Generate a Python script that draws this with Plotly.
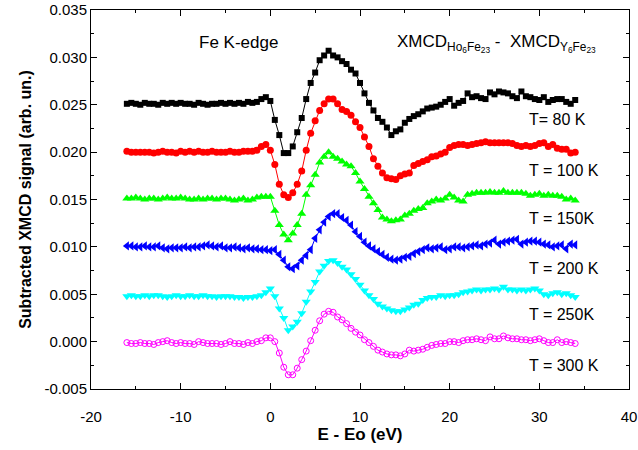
import plotly.graph_objects as go

# Energy grid relative to the Fe K-edge (eV), 0.5 eV steps
energy = [-16 + 0.5 * i for i in range(101)]

sig_80K = [
    0.0251, 0.0252, 0.0251, 0.0250, 0.0252, 0.0251, 0.0251, 0.0250, 0.0252, 0.0251,
    0.0252, 0.0251, 0.0252, 0.0251, 0.0251, 0.0250, 0.0252, 0.0251, 0.0250, 0.0251,
    0.0251, 0.0252, 0.0251, 0.0252, 0.0251, 0.0252, 0.0251, 0.0253, 0.0252, 0.0253,
    0.0256, 0.0258, 0.0254, 0.0234, 0.0218, 0.0199, 0.0199, 0.0206, 0.0221, 0.0236,
    0.0256, 0.0273, 0.0284, 0.0297, 0.0302, 0.0307, 0.0302, 0.0300, 0.0296, 0.0293,
    0.0287, 0.0283, 0.0273, 0.0262, 0.0252, 0.0244, 0.0236, 0.0232, 0.0226, 0.0218,
    0.0222, 0.0224, 0.0231, 0.0235, 0.0238, 0.0240, 0.0243, 0.0246, 0.0247, 0.0248,
    0.0250, 0.0253, 0.0256, 0.0249, 0.0252, 0.0254, 0.0262, 0.0258, 0.0259, 0.0257,
    0.0256, 0.0263, 0.0261, 0.0264, 0.0263, 0.0262, 0.0259, 0.0257, 0.0264, 0.0259,
    0.0258, 0.0256, 0.0255, 0.0258, 0.0253, 0.0255, 0.0256, 0.0256, 0.0253, 0.0251,
    0.0255,
]

sig_100K = [
    0.0201, 0.0200, 0.0200, 0.0200, 0.0200, 0.0200, 0.0199, 0.0200, 0.0201, 0.0200,
    0.0200, 0.0199, 0.0201, 0.0200, 0.0201, 0.0200, 0.0201, 0.0200, 0.0200, 0.0201,
    0.0200, 0.0200, 0.0200, 0.0201, 0.0200, 0.0200, 0.0201, 0.0201, 0.0201, 0.0202,
    0.0206, 0.0208, 0.0202, 0.0187, 0.0166, 0.0155, 0.0152, 0.0157, 0.0166, 0.0180,
    0.0202, 0.0220, 0.0233, 0.0244, 0.0251, 0.0256, 0.0256, 0.0251, 0.0245, 0.0243,
    0.0239, 0.0232, 0.0226, 0.0216, 0.0206, 0.0193, 0.0185, 0.0178, 0.0173, 0.0172,
    0.0171, 0.0175, 0.0177, 0.0178, 0.0186, 0.0188, 0.0190, 0.0192, 0.0195, 0.0196,
    0.0198, 0.0200, 0.0205, 0.0207, 0.0208, 0.0208, 0.0207, 0.0208, 0.0209, 0.0210,
    0.0211, 0.0210, 0.0210, 0.0210, 0.0210, 0.0210, 0.0209, 0.0207, 0.0206, 0.0207,
    0.0206, 0.0207, 0.0209, 0.0210, 0.0206, 0.0208, 0.0204, 0.0203, 0.0203, 0.0199,
    0.0200,
]

sig_150K = [
    0.0151, 0.0151, 0.0152, 0.0151, 0.0150, 0.0151, 0.0151, 0.0150, 0.0151, 0.0152,
    0.0151, 0.0151, 0.0152, 0.0151, 0.0150, 0.0150, 0.0151, 0.0150, 0.0151, 0.0151,
    0.0150, 0.0151, 0.0151, 0.0150, 0.0149, 0.0150, 0.0151, 0.0149, 0.0150, 0.0152,
    0.0153, 0.0153, 0.0153, 0.0138, 0.0123, 0.0113, 0.0107, 0.0114, 0.0123, 0.0135,
    0.0155, 0.0165, 0.0176, 0.0189, 0.0195, 0.0200, 0.0195, 0.0193, 0.0190, 0.0187,
    0.0185, 0.0178, 0.0169, 0.0161, 0.0153, 0.0146, 0.0139, 0.0131, 0.0129, 0.0127,
    0.0128, 0.0129, 0.0133, 0.0135, 0.0138, 0.0140, 0.0141, 0.0146, 0.0148, 0.0150,
    0.0149, 0.0151, 0.0155, 0.0152, 0.0149, 0.0148, 0.0155, 0.0156, 0.0157, 0.0157,
    0.0157, 0.0158, 0.0157, 0.0157, 0.0159, 0.0157, 0.0157, 0.0157, 0.0157, 0.0156,
    0.0154, 0.0155, 0.0156, 0.0154, 0.0155, 0.0154, 0.0154, 0.0153, 0.0150, 0.0151,
    0.0149,
]

sig_200K = [
    0.0101, 0.0101, 0.0100, 0.0100, 0.0101, 0.0100, 0.0100, 0.0101, 0.0099, 0.0098,
    0.0099, 0.0099, 0.0099, 0.0100, 0.0099, 0.0100, 0.0100, 0.0101, 0.0102, 0.0101,
    0.0100, 0.0101, 0.0099, 0.0099, 0.0100, 0.0099, 0.0098, 0.0099, 0.0098, 0.0098,
    0.0097, 0.0097, 0.0096, 0.0097, 0.0092, 0.0086, 0.0079, 0.0077, 0.0080, 0.0086,
    0.0091, 0.0097, 0.0109, 0.0118, 0.0126, 0.0132, 0.0135, 0.0135, 0.0131, 0.0128,
    0.0123, 0.0116, 0.0111, 0.0105, 0.0101, 0.0098, 0.0095, 0.0092, 0.0089, 0.0087,
    0.0086, 0.0087, 0.0089, 0.0090, 0.0093, 0.0095, 0.0097, 0.0099, 0.0098, 0.0099,
    0.0100, 0.0097, 0.0098, 0.0100, 0.0100, 0.0099, 0.0100, 0.0101, 0.0102, 0.0101,
    0.0103, 0.0104, 0.0107, 0.0103, 0.0105, 0.0106, 0.0107, 0.0108, 0.0103, 0.0105,
    0.0106, 0.0106, 0.0105, 0.0103, 0.0102, 0.0100, 0.0101, 0.0102, 0.0098, 0.0103,
    0.0102,
]

sig_250K = [
    0.0048, 0.0049, 0.0048, 0.0048, 0.0049, 0.0048, 0.0049, 0.0049, 0.0048, 0.0047,
    0.0048, 0.0049, 0.0048, 0.0048, 0.0049, 0.0048, 0.0048, 0.0049, 0.0048, 0.0048,
    0.0047, 0.0048, 0.0048, 0.0048, 0.0047, 0.0047, 0.0046, 0.0047, 0.0047, 0.0048,
    0.0049, 0.0052, 0.0056, 0.0048, 0.0035, 0.0025, 0.0012, 0.0016, 0.0021, 0.0030,
    0.0042, 0.0053, 0.0063, 0.0074, 0.0080, 0.0085, 0.0086, 0.0083, 0.0079, 0.0076,
    0.0071, 0.0066, 0.0060, 0.0054, 0.0049, 0.0045, 0.0040, 0.0037, 0.0035, 0.0033,
    0.0032, 0.0032, 0.0034, 0.0036, 0.0039, 0.0040, 0.0044, 0.0046, 0.0047, 0.0047,
    0.0049, 0.0048, 0.0049, 0.0049, 0.0050, 0.0052, 0.0053, 0.0054, 0.0055, 0.0054,
    0.0055, 0.0055, 0.0056, 0.0055, 0.0058, 0.0055, 0.0055, 0.0054, 0.0055, 0.0054,
    0.0055, 0.0056, 0.0054, 0.0050, 0.0049, 0.0051, 0.0052, 0.0050, 0.0051, 0.0049,
    0.0047,
]

sig_300K = [
    -0.0001, -0.0002, -0.0002, -0.0001, -0.0002, -0.0002, -0.0003, -0.0001, 0.0000, 0.0001,
    -0.0001, -0.0002, -0.0001, -0.0002, -0.0002, -0.0003, 0.0000, -0.0001, -0.0002, -0.0002,
    -0.0002, -0.0003, -0.0002, 0.0000, -0.0002, -0.0002, -0.0003, -0.0001, -0.0002, 0.0000,
    0.0001, 0.0004, 0.0004, 0.0000, -0.0012, -0.0027, -0.0035, -0.0035, -0.0028, -0.0019,
    -0.0010, 0.0001, 0.0012, 0.0022, 0.0029, 0.0032, 0.0031, 0.0026, 0.0023, 0.0019,
    0.0014, 0.0010, 0.0007, 0.0002, -0.0001, -0.0005, -0.0009, -0.0011, -0.0013, -0.0014,
    -0.0014, -0.0015, -0.0013, -0.0009, -0.0010, -0.0009, -0.0008, -0.0006, -0.0004, -0.0003,
    -0.0002, -0.0002, 0.0000, 0.0000, -0.0001, 0.0001, 0.0002, 0.0002, 0.0003, 0.0002,
    0.0001, 0.0005, 0.0003, 0.0003, 0.0006, 0.0004, 0.0003, 0.0003, 0.0002, 0.0002,
    0.0001, 0.0002, 0.0003, 0.0001, -0.0001, -0.0001, 0.0002, -0.0001, 0.0000, -0.0001,
    -0.0002,
]

temperature_labels = ["T= 80 K", "T = 100 K", "T = 150K", "T = 200 K", "T = 250K", "T = 300 K"]
label_y = [0.02348, 0.01804, 0.0130, 0.00774, 0.00291, -0.00247]

# Tick positions and labels (plain hyphen for negatives)
x_tick_vals = [-20, -10, 0, 10, 20, 30, 40]
x_tick_text = ["-20", "-10", "0", "10", "20", "30", "40"]
y_tick_vals = [-0.005, 0.0, 0.005, 0.010, 0.015, 0.020, 0.025, 0.030, 0.035]
y_tick_text = ["-0.005", "0.000", "0.005", "0.010", "0.015", "0.020", "0.025", "0.030", "0.035"]

series = [sig_80K, sig_100K, sig_150K, sig_200K, sig_250K, sig_300K]
colors = ["#000000", "#ff0000", "#00ff00", "#0000ff", "#00ffff", "#ff00ff"]
symbols = ["square", "circle", "triangle-up", "triangle-left", "triangle-down", "circle-open"]
sizes = [6, 7, 8, 8, 8, 6]

FONT = "Arial, Liberation Sans, sans-serif"

fig = go.Figure()
for ys, col, sym, sz in zip(series, colors, symbols, sizes):
    fig.add_trace(go.Scatter(
        x=energy, y=ys, mode="lines+markers",
        line=dict(color=col, width=1),
        marker=dict(symbol=sym, size=sz, color=col,
                    line=dict(color=col, width=1 if sym.endswith("open") else 0)),
        showlegend=False, hoverinfo="skip",
    ))

for txt, yy in zip(temperature_labels, label_y):
    fig.add_annotation(x=28.63, y=yy, xref="x", yref="y", text=txt, showarrow=False,
                       xanchor="left", yanchor="middle",
                       font=dict(family=FONT, size=16, color="#000000"))

fig.add_annotation(x=-8.17, y=0.0316, xref="x", yref="y", text="Fe K-edge",
                   showarrow=False, xanchor="left", yanchor="middle",
                   font=dict(family=FONT, size=17, color="#000000"))

fig.add_annotation(x=13.9, y=0.0315, xref="x", yref="y",
                   text="XMCD<sub>Ho<sub>6</sub>Fe<sub>23</sub></sub> -  XMCD<sub>Y<sub>6</sub>Fe<sub>23</sub></sub>",
                   showarrow=False, xanchor="left", yanchor="middle",
                   font=dict(family=FONT, size=17, color="#000000"))

axis_common = dict(
    showline=True, linecolor="#000000", linewidth=1, mirror="ticks",
    ticks="inside", ticklen=6, tickwidth=1, tickcolor="#000000",
    showgrid=False, zeroline=False, automargin=False,
    tickfont=dict(family=FONT, size=15, color="#000000"),
)

fig.update_xaxes(
    range=[-20, 40], tickmode="array", tickvals=x_tick_vals, ticktext=x_tick_text,
    ticklabelstandoff=14,
    minor=dict(ticks="inside", ticklen=3, tickwidth=1, tickcolor="#000000", dtick=5, showgrid=False),
    title=dict(text="<b>E - Eo (eV)</b>", font=dict(family=FONT, size=17, color="#000000"), standoff=4),
    **axis_common,
)
fig.update_yaxes(
    range=[-0.005, 0.035], tickmode="array", tickvals=y_tick_vals, ticktext=y_tick_text,
    minor=dict(ticks="inside", ticklen=3, tickwidth=1, tickcolor="#000000",
               tick0=-0.005, dtick=0.0025, showgrid=False),
    title=dict(text="<b>Subtracted XMCD signal (arb. un.)</b>", font=dict(family=FONT, size=16, color="#000000"), standoff=8),
    **axis_common,
)

fig.update_layout(
    width=638, height=450,
    margin=dict(l=91, r=9, t=10, b=61),
    plot_bgcolor="#ffffff", paper_bgcolor="#ffffff",
)

fig.write_html("out.html")
